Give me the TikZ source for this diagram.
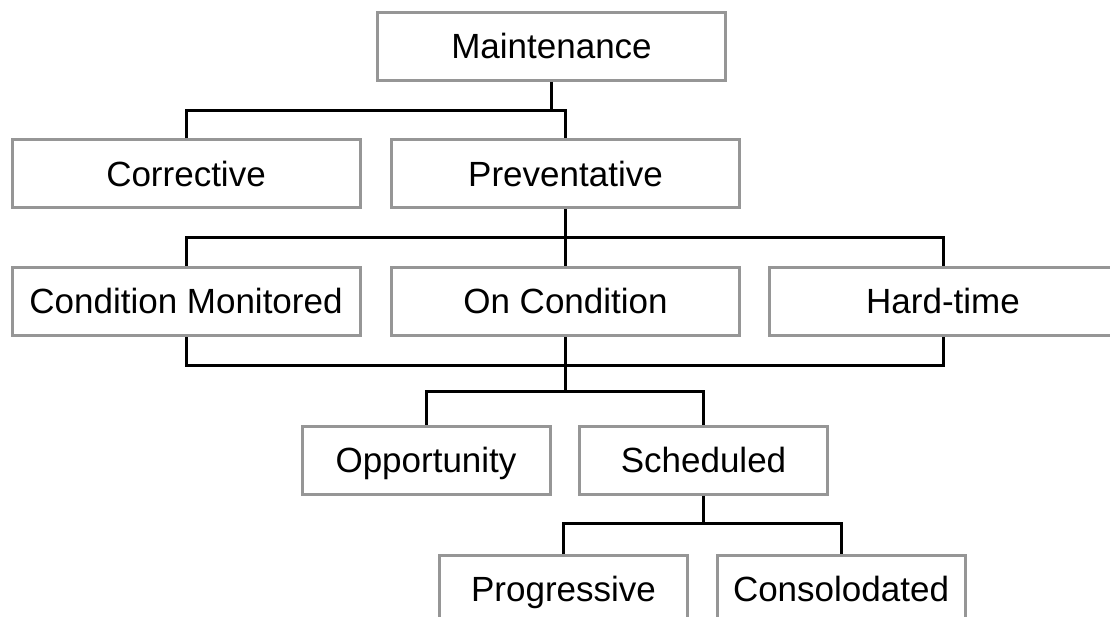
\documentclass[tikz,border=0pt]{standalone}
\usepackage{fontspec}
\setmainfont{Liberation Sans}
\usetikzlibrary{calc}
\definecolor{boxgray}{RGB}{150,150,150}

\begin{document}
\begin{tikzpicture}[x=1pt,y=-1pt,node distance=127.5pt,
    box/.style={draw=boxgray,line width=3pt,minimum width=348pt,minimum height=68pt,
      inner sep=0pt,text height=25pt,text depth=0pt,font=\fontsize{35}{42}\selectfont},
    smallbox/.style={box,minimum width=248pt},
    link/.style={line width=3pt}]
    \useasboundingbox (0,0) rectangle (1110,617);

    \node[box] (M) at (551.5,46.5)                                  {Maintenance};
    \node[box] [below of=M, xshift=-365.5pt]                        (C){Corrective};
    \node[box] [right of=C, node distance=379.5pt]                  (P){Preventative};
    \node[box] [below of=C]                                         (CM){Condition Monitored};
    \node[box] [below of=P]                                         (OC){On Condition};
    \node[box] [right of=OC, node distance=377.5pt]                 (HT){Hard-time};
    \node[smallbox] [below of=OC, node distance=158.5pt, xshift=-139.5pt] (O){Opportunity};
    \node[smallbox] [right of=O, node distance=277.5pt]             (S){Scheduled};
    \node[smallbox] [below of=S, node distance=129pt, xshift=-140pt] (PR){Progressive};
    \node[smallbox] [right of=PR, node distance=277.5pt]            (CO){Consolodated};

    % junctions of the buses
    \coordinate (J1) at ($(M.south)!0.5!(M.south |- C.north)$);
    \coordinate (J2) at ($(P.south)!0.5!(P.south |- OC.north)$);
    \coordinate (J3) at ($(OC.south)+(0,28.5)$);
    \coordinate (J4) at ($(OC.south |- O.north)+(0,-33)$);
    \coordinate (J5) at ($(S.south)+(0,28)$);

    \draw[link] (M.south) -- (J1);
    \draw[link] (C.north) |- (J1) -| (P.north);
    \draw[link] (P.south) -- (OC.north);
    \draw[link] (CM.north) |- (J2) -| (HT.north);
    \draw[link] (CM.south) |- (J3) -| (HT.south);
    \draw[link] (OC.south) -- (J4);
    \draw[link] (O.north) |- (J4) -| (S.north);
    \draw[link] (S.south) -- (J5);
    \draw[link] (PR.north) |- (J5) -| (CO.north);
\end{tikzpicture}
\end{document}
